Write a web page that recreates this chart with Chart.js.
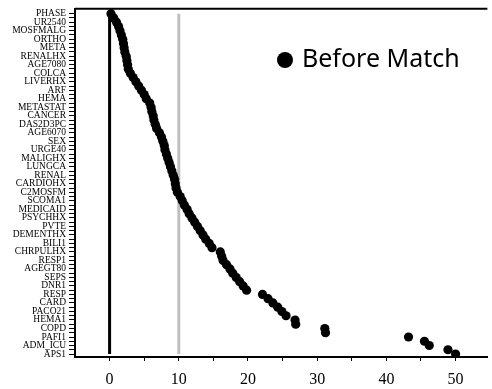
<!DOCTYPE html>
<html>
<head>
<meta charset="utf-8">
<script src="https://cdn.jsdelivr.net/npm/chart.js@4/dist/chart.umd.min.js"></script>
<style>
  html, body { margin: 0; padding: 0; background: #fff; }
  #wrap { width: 492px; height: 389px; }
</style>
</head>
<body>
<div id="wrap"><canvas id="matchChart"></canvas></div>
<script>
// labelled covariates, top to bottom (every other row carries a name)
const varNames = ['PHASE', 'UR2540', 'MOSFMALG', 'ORTHO', 'META', 'RENALHX', 'AGE7080', 'COLCA',
  'LIVERHX', 'ARF', 'HEMA', 'METASTAT', 'CANCER', 'DAS2D3PC', 'AGE6070', 'SEX', 'URGE40',
  'MALIGHX', 'LUNGCA', 'RENAL', 'CARDIOHX', 'C2MOSFM', 'SCOMA1', 'MEDICAID', 'PSYCHHX', 'PVTE',
  'DEMENTHX', 'BILI1', 'CHRPULHX', 'RESP1', 'AGEGT80', 'SEPS', 'DNR1', 'RESP', 'CARD', 'PACO21',
  'HEMA1', 'COPD', 'PAFI1', 'ADM_ICU', 'APS1'];

// standardized difference before matching, one per row, top to bottom
const beforeMatch = [0.2, 0.6, 1.0, 1.3, 1.5, 1.7, 1.9, 2.0, 2.1, 2.2,
  2.4, 2.5, 2.6, 2.7, 3.0, 3.4, 3.8, 4.2, 4.6, 5.0,
  5.3, 5.8, 6.0, 6.1, 6.3, 6.4, 6.6, 6.8, 7.2, 7.5,
  7.7, 7.9, 8.0, 8.2, 8.4, 8.6, 8.8, 9.0, 9.2, 9.4,
  9.5, 9.6, 9.8, 10.2, 10.5, 10.8, 11.2, 11.5, 11.9, 12.3,
  12.7, 13.1, 13.5, 13.9, 14.4, 14.8, 16.0, 16.2, 16.4, 16.9,
  17.4, 17.8, 18.3, 18.8, 19.3, 19.8, 22.1, 22.9, 23.6, 24.3,
  24.9, 25.5, 26.8, 26.9, 31.1, 31.2, 43.2, 45.5, 46.2, 48.9,
  50.0];

const xTicks = [0, 5, 10, 15, 20, 25, 30, 35, 40, 45, 50];
const zeroLine = 0;
const cutLine = 10;

const lastRow = beforeMatch.length - 1;

const framePlugin = {
  id: 'frame',
  afterDraw(chart) {
    const { ctx, chartArea } = chart;
    ctx.save();
    // top edge of box
    ctx.strokeStyle = '#000';
    ctx.lineWidth = 2;
    ctx.beginPath();
    ctx.moveTo(chartArea.left, chartArea.top);
    ctx.lineTo(chartArea.right, chartArea.top);
    ctx.stroke();
    // legend inside the plot
    ctx.fillStyle = '#000';
    ctx.beginPath();
    ctx.arc(285, 60, 8, 0, Math.PI * 2);
    ctx.fill();
    ctx.font = '25px "Comic Sans MS", "Noto Sans", sans-serif';
    ctx.textBaseline = 'middle';
    ctx.fillText('Before Match', 302, 60);
    ctx.restore();
  }
};

new Chart(document.getElementById('matchChart'), {
  type: 'scatter',
  data: {
    datasets: [
      {
        label: 'Before Match',
        data: beforeMatch.map((v, i) => ({ x: v, y: i })),
        backgroundColor: '#000',
        borderColor: '#000',
        pointRadius: 4.6,
        pointBorderWidth: 0
      },
      {
        type: 'line',
        data: [{ x: zeroLine, y: 0 }, { x: zeroLine, y: lastRow }],
        borderColor: '#000',
        borderWidth: 3,
        pointRadius: 0
      },
      {
        type: 'line',
        data: [{ x: cutLine, y: 0 }, { x: cutLine, y: lastRow }],
        borderColor: '#c0c0c0',
        borderWidth: 3,
        pointRadius: 0
      }
    ]
  },
  options: {
    responsive: true,
    maintainAspectRatio: false,
    animation: false,
    layout: { padding: { top: 8, left: 2, right: 0, bottom: 0 } },
    plugins: {
      legend: { display: false },
      tooltip: { enabled: false }
    },
    scales: {
      x: {
        type: 'linear',
        min: -5,
        max: 54.6,
        afterBuildTicks: (axis) => { axis.ticks = xTicks.map(v => ({ value: v })); },
        afterFit: (axis) => { axis.height = 32; },
        grid: { drawOnChartArea: false, drawTicks: true, tickLength: 4, color: '#000' },
        border: { color: '#000', width: 2 },
        ticks: {
          padding: 9,
          color: '#000',
          font: { family: '"Liberation Serif", "Times New Roman", serif', size: 16 },
          callback: (v) => (v % 10 === 0 ? String(v) : '')
        }
      },
      y: {
        type: 'linear',
        reverse: true,
        min: -1.17,
        max: 80.7,
        afterBuildTicks: (axis) => { axis.ticks = beforeMatch.map((v, i) => ({ value: i })); },
        afterFit: (axis) => { axis.width = 73; },
        grid: { drawOnChartArea: false, drawTicks: true, tickLength: 6, color: '#000' },
        border: { color: '#000', width: 2 },
        ticks: {
          autoSkip: false,
          padding: 3,
          color: '#000',
          font: { family: '"Liberation Serif", "Times New Roman", serif', size: 9.5 },
          callback: (v) => (v % 2 === 0 ? varNames[v / 2] : '')
        }
      }
    }
  },
  plugins: [framePlugin]
});
</script>
</body>
</html>
